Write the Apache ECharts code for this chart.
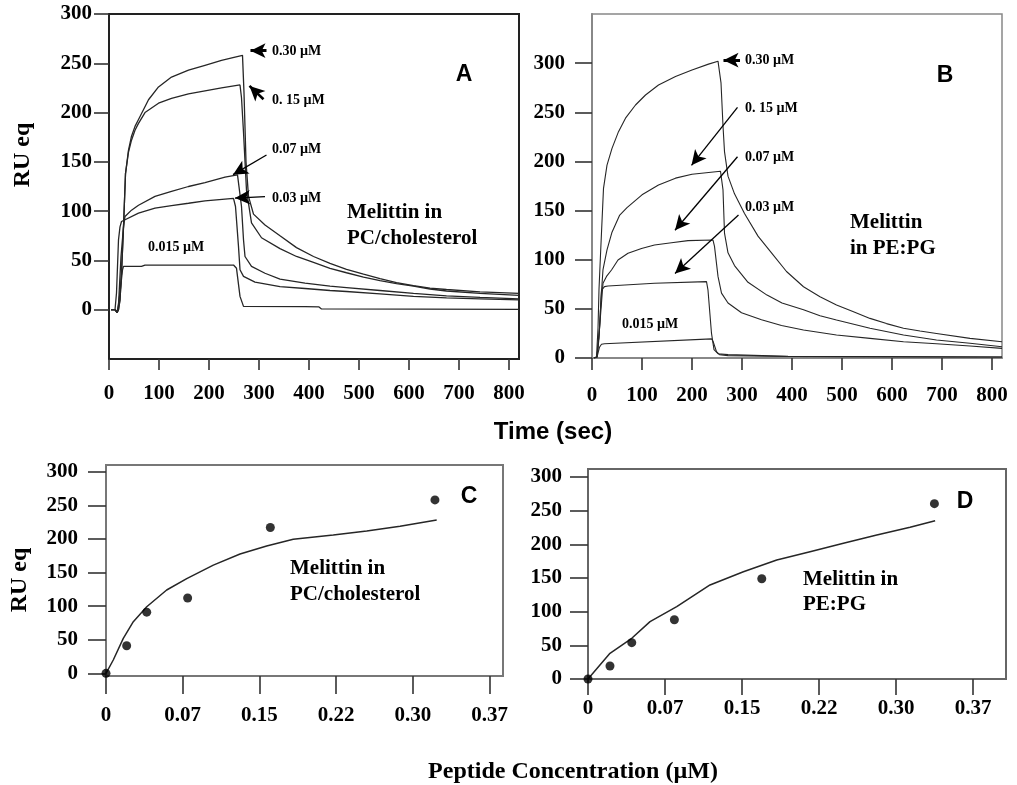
<!DOCTYPE html>
<html><head><meta charset="utf-8">
<script src="https://cdn.jsdelivr.net/npm/echarts@6/dist/echarts.min.js"></script>
<style>html,body{margin:0;padding:0;background:#fff}#c{width:1017px;height:785px}</style>
</head><body><div id="c"></div><script>
// ---------- data ----------
const timeTicks = [0,100,200,300,400,500,600,700,800];
const ruTicks = [0,50,100,150,200,250,300];
const concTicks = [0,0.075,0.15,0.225,0.3,0.375];

// Panel A: Melittin in PC/cholesterol, [time (s), RU eq]
const a030 = [[4,0],[12,0],[16,-3],[19,0],[22,10],[25,37],[29,84],[33,138],[39,162],[45,176],[52,186],[59,193],[79,213],[99,226],[125,236],[159,243],[192,248],[225,253],[250,256],[267,258],[270,220],[274,150],[279,115],[289,97],[312,86],[342,75],[375,63],[409,54],[442,47],[475,41],[509,36],[542,31.5],[575,27.5],[609,24.5],[642,22],[675,20.5],[742,18],[820,16.5]];
const a015 = [[4,0],[12,0],[16,-3],[19,0],[22,10],[25,37],[29,84],[33,138],[39,160],[45,172],[52,182],[59,189],[72,200],[99,209.5],[125,214.5],[159,219],[192,222],[225,225],[262,228],[265,215],[269,180],[275,121],[285,88],[305,73],[342,62],[375,54],[409,48],[442,42],[475,37.5],[509,33],[542,29.5],[575,26.5],[609,24],[642,21],[675,19],[742,16.5],[820,14.5]];
const a007 = [[4,0],[12,0],[16,-3],[19,5],[24,54],[29,84],[32,94.6],[45,101],[59,106],[92,115],[125,120],[159,125],[192,129],[232,134.5],[257,136.8],[260,135],[265,104.7],[269,71],[272,54],[285,44],[312,37],[342,31],[392,27],[442,24],[475,22.5],[542,19.5],[609,16.5],[675,14],[742,12.5],[820,11]];
const a003 = [[4,0],[12,0],[15,17],[19,71],[22,84],[25,89.5],[29,90.5],[59,98],[92,103],[125,105.7],[159,108],[192,110.5],[249,113],[253,104.7],[259,64],[262,40.5],[269,33.8],[292,28],[342,23.5],[392,21.5],[442,19.5],[475,18.5],[542,16],[609,13.5],[675,12],[742,11],[820,10]];
const a0015 = [[4,0],[12,0],[17,-1.7],[22,17],[27,40.5],[29,44],[65,44],[72,45.3],[249,45.3],[255,42],[262,13.5],[269,3.4],[392,3.2],[420,2.8],[425,0.8],[820,0.3]];

// Panel B: Melittin in PE:PG, [time (s), RU eq]
const b030 = [[4,0],[9,1],[12,30],[14,70],[17,105],[20,139],[23,172.6],[30,196.3],[40,213.3],[53,230.3],[67,244],[87,257.4],[107,267.6],[133,277.8],[167,286.3],[200,293],[233,299],[252,302],[258,280],[262,236],[265,210],[272,185],[285,167],[305,147],[332,124],[359,107],[389,88],[423,72.5],[456,62.4],[489,54],[523,47],[556,40.3],[589,35],[623,30.2],[656,27.5],[689,25],[756,20],[820,16.5]];
const b015 = [[4,0],[10,1],[14,20],[18,60],[22,90],[30,110],[40,128],[55,145],[70,153],[100,166],[133,176],[167,183],[200,187],[257,190],[262,171],[265,127],[272,107],[285,94],[312,77],[350,64],[380,56],[423,49],[456,43],[489,38.6],[556,30.2],[623,23.4],[689,18.3],[756,15],[820,11.5]];
const b007 = [[4,0],[10,1],[15,30],[22,76],[29,83],[39,89.5],[52,99.7],[72,106.5],[99,111.5],[125,115],[159,117.3],[192,119.4],[242,120],[245,113.6],[252,83],[259,66],[272,56],[299,46],[339,39],[379,33],[423,28.5],[489,23.4],[556,20],[623,16.6],[689,14.5],[756,12.2],[820,9.8]];
const b003 = [[4,0],[10,1],[15,30],[19,69],[25,72.6],[32,73.3],[125,76],[229,77.7],[232,69],[239,25],[244,8.5],[252,4.4],[272,3.4],[392,1.7],[820,1]];
const b0015 = [[4,0],[10,1],[15,11],[19,14],[25,14.5],[239,19.5],[242,17],[249,6.5],[255,3.4],[272,2.4],[392,1.5],[820,1]];

// Panel C: PC/cholesterol, peptide concentration (µM) vs RU eq
const concC = [0, 0.0202, 0.0398, 0.0798, 0.1606, 0.3215];
const ruC = [0, 41, 91, 112, 217, 258];
const fitConcC = [0,0.0071,0.0169,0.0267,0.0398,0.0593,0.0789,0.1049,0.131,0.157,0.183,0.2221,0.2548,0.2874,0.3232];
const fitRuC = [0,19.8,52,76.8,99,124,141,161,177.5,189.4,199.4,205.8,211.8,219,228];

// Panel D: PE:PG
const concD = [0, 0.0214, 0.0426, 0.0841, 0.1692, 0.3373];
const ruD = [0, 19.3, 54, 88, 149, 260.5];
const fitConcD = [0,0.0214,0.0426,0.0604,0.0864,0.1188,0.1513,0.1838,0.2162,0.2487,0.2812,0.3136,0.338];
const fitRuD = [0,38.2,60.5,85.2,107.4,139.7,159.4,176.8,189.2,201.6,214,225.4,235.2];

// annotation arrows [tail, tip] in data coordinates
const arrowsA = [[[315,262.8],[283,262.8],3],[[309,213.5],[281,227],2.5],[[315,157],[248,137],1.3],[[312,114.8],[252,113.3],1.3]];
const arrowsB = [[[296,303],[263,303],3],[[291,255],[199,196],1.3],[[291,204.8],[166,130],1.3],[[293,145.5],[166,86],1.3]];

// ---------- options ----------
const SERIF = '"Liberation Serif","Times New Roman",serif';
const SANS = '"Liberation Sans",Arial,sans-serif';
const zip = (xs, ys) => xs.map((x, i) => [x, ys[i]]);

function labelStyle(extra) {
  return Object.assign({color:'#000', fontFamily:SERIF, fontWeight:'bold', fontSize:21}, extra);
}
function xAx(gi, min, max, ticks, frameColor, tickLen, margin, fmt) {
  return {gridIndex:gi, type:'value', min, max,
    axisLine:{show:true, onZero:false, lineStyle:{color:frameColor, width:2}},
    axisTick:{show:true, customValues:ticks, length:tickLen, lineStyle:{color:'#333', width:1.6}},
    axisLabel:labelStyle({customValues:ticks, margin, formatter:fmt}),
    splitLine:{show:false}};
}
function yAx(gi, min, max, frameColor, tickLen, margin, pad) {
  return {gridIndex:gi, type:'value', min, max,
    axisLine:{show:true, onZero:false, lineStyle:{color:frameColor, width:2}},
    axisTick:{show:true, customValues:ruTicks, length:tickLen, lineStyle:{color:'#333', width:1.6}},
    axisLabel:labelStyle({customValues:ruTicks, margin, padding:[pad,0,0,0]}),
    splitLine:{show:false}};
}
const concFmt = v => v === 0 ? '0' : (Math.floor(v * 100 + 1e-6) / 100).toFixed(2);

function curve(data, xi, w) {
  return {type:'line', xAxisIndex:xi, yAxisIndex:xi, data, showSymbol:false, symbol:'none',
    lineStyle:{color:'#262626', width:w}, silent:true, z:3};
}
function arrowMarks(arrows) {
  return {silent:true, symbol:['none','arrow'], label:{show:false}, animation:false,
    data: arrows.map(a => [{coord:a[0], lineStyle:{color:'#000', width:a[2], type:'solid'}},
                           {coord:a[1], symbolSize:[11,15]}])};
}

const seriesA = [a030, a015, a007, a003, a0015].map(d => curve(d, 0, 1.3));
seriesA[0].markLine = arrowMarks(arrowsA);
const seriesB = [b030, b015, b007, b003, b0015].map(d => curve(d, 1, 1.1));
seriesB[0].markLine = arrowMarks(arrowsB);

const txt = (x, y, text, font, align) => ({type:'text', x, y, silent:true,
  style:{text, font, fill:'#000', align:align || 'left', verticalAlign:'middle'}});
const small = 'bold 14px ' + SERIF;
const mid = 'bold 21px ' + SERIF;
const big = 'bold 24px ' + SERIF;
const panel = 'bold 23px ' + SANS;

const graphics = [
  txt(272,51,'0.30 µM',small), txt(272,100,'0. 15 µM',small), txt(272,149,'0.07 µM',small),
  txt(272,198,'0.03 µM',small), txt(148,247,'0.015 µM',small),
  txt(464,75,'A',panel,'center'), txt(347,213,'Melittin in',mid), txt(347,239,'PC/cholesterol',mid),
  txt(745,60,'0.30 µM',small), txt(745,108,'0. 15 µM',small), txt(745,157,'0.07 µM',small),
  txt(745,207,'0.03 µM',small), txt(622,324,'0.015 µM',small),
  txt(945,76,'B',panel,'center'), txt(850,223,'Melittin',mid), txt(850,249,'in PE:PG',mid),
  txt(469,497,'C',panel,'center'), txt(290,569,'Melittin in',mid), txt(290,595,'PC/cholesterol',mid),
  txt(965,502,'D',panel,'center'), txt(803,580,'Melittin in',mid), txt(803,605,'PE:PG',mid),
  txt(553,432,'Time (sec)','bold 24px ' + SANS,'center'),
  txt(573,772,'Peptide Concentration (µM)',big,'center'),
  {type:'text', x:23, y:155, rotation:Math.PI/2, silent:true,
   style:{text:'RU eq', font:big, fill:'#000', align:'center', verticalAlign:'middle'}},
  {type:'text', x:20, y:580, rotation:Math.PI/2, silent:true,
   style:{text:'RU eq', font:big, fill:'#000', align:'center', verticalAlign:'middle'}}
];

const option = {
  animation:false,
  backgroundColor:'#fff',
  grid:[
    {left:109, top:14, width:410, height:345, show:true, borderColor:'#222', borderWidth:2},
    {left:592, top:14, width:410, height:344, show:true, borderColor:'#888', borderWidth:1.5},
    {left:106, top:465, width:397, height:211, show:true, borderColor:'#777', borderWidth:2},
    {left:588, top:469, width:418, height:210, show:true, borderColor:'#666', borderWidth:2}
  ],
  xAxis:[
    xAx(0, 0, 820, timeTicks, '#222', 11, 24),
    xAx(1, 0, 820, timeTicks, '#888', 12, 27),
    xAx(2, 0, 0.388, concTicks, '#777', 18, 29, concFmt),
    xAx(3, 0, 0.407, concTicks, '#666', 16, 19, concFmt)
  ],
  yAxis:[
    yAx(0, -50, 300, '#222', 15, 17, 0),
    yAx(1, 0, 350, '#888', 17, 27, 0),
    yAx(2, -4, 310, '#777', 18, 28, 18),
    yAx(3, 0, 312, '#666', 18, 26, 12)
  ],
  series:[
    ...seriesA, ...seriesB,
    curve(zip(fitConcC, fitRuC), 2, 1.5),
    {type:'scatter', xAxisIndex:2, yAxisIndex:2, data:zip(concC, ruC), symbolSize:9, itemStyle:{color:'#000'}, z:4, silent:true},
    curve(zip(fitConcD, fitRuD), 3, 1.5),
    {type:'scatter', xAxisIndex:3, yAxisIndex:3, data:zip(concD, ruD), symbolSize:9, itemStyle:{color:'#000'}, z:4, silent:true}
  ],
  graphic:graphics
};
const chart = echarts.init(document.getElementById('c'), null, {renderer:'canvas'});
chart.setOption(option);
</script></body></html>
